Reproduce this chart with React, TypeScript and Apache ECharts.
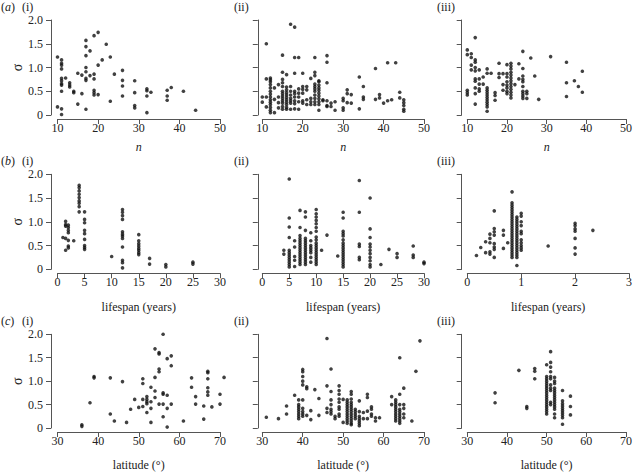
import React, { useEffect, useRef } from "react";
import * as echarts from "echarts";

type Col = [number, number[]];

// (a) sigma vs n
const aI: Col[] = [
  [10, [1.22, 0.17]],
  [11, [1.16, 1.09, 1.05, 0.97, 0.77, 0.72, 0.66, 0.63, 0.5, 0.13, 0.01]],
  [12, [0.78]],
  [13, [0.68, 0.63, 0.59]],
  [14, [0.5, 0.47]],
  [15, [0.88, 0.23]],
  [16, [0.84, 0.45]],
  [17, [1.57, 1.44, 1.25, 1.0, 0.91, 0.77, 0.73, 0.12]],
  [18, [1.35, 0.83]],
  [19, [1.67, 0.86, 0.76, 0.52, 0.47, 0.42]],
  [20, [1.74, 1.05, 0.43]],
  [21, [1.16]],
  [22, [1.49]],
  [23, [1.22, 0.29]],
  [24, [0.86]],
  [26, [0.94, 0.73, 0.61, 0.4]],
  [29, [0.72, 0.47, 0.2, 0.15]],
  [32, [0.55, 0.51, 0.4, 0.05]],
  [33, [0.48]],
  [37, [0.52, 0.4, 0.31]],
  [38, [0.58]],
  [41, [0.5]],
  [44, [0.1]],
];
const aII: Col[] = [
  [10, [0.38, 0.27]],
  [11, [1.5, 0.76, 0.38, 0.17]],
  [12, [0.78, 0.74, 0.7, 0.64, 0.57, 0.5, 0.44, 0.38, 0.32, 0.27, 0.22, 0.16, 0.1, 0.05]],
  [13, [0.57, 0.33, 0.05]],
  [14, [0.64, 0.38, 0.26, 0.15]],
  [15, [1.26, 0.9, 0.75, 0.68, 0.6, 0.5, 0.45, 0.4, 0.35, 0.3, 0.25, 0.18, 0.12]],
  [16, [0.85, 0.59, 0.53, 0.47, 0.42, 0.37, 0.32, 0.27, 0.22, 0.16, 0.12]],
  [17, [1.91, 0.6, 0.5, 0.42, 0.35, 0.3, 0.25, 0.12]],
  [18, [1.85, 1.21, 0.88, 0.5, 0.45, 0.38, 0.3, 0.24, 0.13]],
  [19, [1.21, 0.55, 0.46, 0.38, 0.28, 0.12]],
  [20, [0.88, 0.6, 0.54, 0.46, 0.3, 0.25]],
  [21, [0.6, 0.53, 0.32, 0.22]],
  [22, [0.77, 0.35, 0.28, 0.22]],
  [23, [1.21, 0.9, 0.83, 0.65, 0.6, 0.55, 0.5, 0.42, 0.35, 0.28, 0.22]],
  [24, [0.72, 0.7, 0.63, 0.57, 0.52, 0.46, 0.4, 0.34, 0.28, 0.22, 0.1]],
  [25, [0.32, 0.3]],
  [26, [1.25, 1.11, 0.68, 0.3, 0.2, 0.18]],
  [27, [0.25, 0.18]],
  [28, [0.28, 0.1]],
  [30, [0.35, 0.3, 0.15, 0.1]],
  [31, [0.53, 0.45, 0.26]],
  [32, [0.43, 0.25]],
  [34, [0.8, 0.13]],
  [35, [0.6, 0.38, 0.33]],
  [38, [0.98, 0.33]],
  [39, [0.43, 0.36]],
  [40, [0.25]],
  [41, [1.1, 0.3]],
  [42, [0.32]],
  [43, [1.1]],
  [44, [0.48, 0.36]],
  [45, [0.32, 0.26, 0.2, 0.12, 0.08]],
];
const aIII: Col[] = [
  [10, [1.37, 1.27, 0.52, 0.47, 0.42]],
  [11, [1.29, 1.21, 1.05, 0.95]],
  [12, [1.63, 1.16, 1.11, 1.0, 0.93, 0.76, 0.71, 0.57, 0.45, 0.23]],
  [13, [0.95, 0.76, 0.65, 0.55, 0.5]],
  [14, [0.8, 0.65]],
  [15, [0.97, 0.88, 0.57, 0.52, 0.47, 0.42, 0.37, 0.32, 0.27, 0.22, 0.17, 0.08]],
  [16, [0.88]],
  [17, [0.47, 0.41, 0.31]],
  [18, [1.09, 0.87, 0.79]],
  [19, [0.87, 0.64, 0.52]],
  [20, [1.06, 0.87, 0.8, 0.7, 0.63, 0.57, 0.5, 0.45]],
  [21, [1.09, 1.03, 0.97, 0.9, 0.84, 0.78, 0.72, 0.66, 0.6, 0.54, 0.48, 0.42, 0.36]],
  [22, [0.64]],
  [23, [1.08, 0.76]],
  [24, [1.34, 0.98, 0.82, 0.75, 0.7, 0.6, 0.5, 0.45, 0.4, 0.35]],
  [25, [0.5, 0.45, 0.35]],
  [26, [1.2]],
  [27, [0.82]],
  [28, [0.33]],
  [31, [1.23]],
  [35, [1.11, 0.68, 0.39]],
  [37, [0.72]],
  [38, [0.6]],
  [39, [0.92, 0.48]],
];

// (b) sigma vs lifespan
const bI: Col[] = [
  [1, [0.67]],
  [1.5, [1.01, 0.94, 0.91, 0.65, 0.4]],
  [2, [0.93, 0.88, 0.82, 0.77, 0.61, 0.49, 0.45]],
  [3, [0.6]],
  [4, [1.77, 1.72, 1.65, 1.58, 1.51, 1.44, 1.39, 1.32, 1.21]],
  [5, [1.21, 1.05, 0.98, 0.82, 0.75, 0.63, 0.5, 0.46, 0.42]],
  [10, [0.27]],
  [12, [1.26, 1.2, 1.13, 1.05, 0.79, 0.74, 0.7, 0.65, 0.47, 0.19, 0.14, 0.03]],
  [15, [0.73, 0.6, 0.54, 0.49, 0.44, 0.4, 0.35, 0.31]],
  [17, [0.23, 0.11]],
  [20, [0.1, 0.05]],
  [25, [0.15, 0.11]],
];
const bII: Col[] = [
  [4, [0.4, 0.32]],
  [5, [1.9, 1.08, 0.89, 0.67, 0.4, 0.35, 0.3, 0.25, 0.2, 0.15, 0.1, 0.05]],
  [6, [0.6, 0.47, 0.27, 0.19, 0.06]],
  [7, [1.24, 0.88, 0.71, 0.65, 0.6, 0.55, 0.5, 0.45, 0.4, 0.35, 0.3, 0.25, 0.2, 0.15, 0.1]],
  [8, [1.21, 1.1, 0.82, 0.65, 0.6, 0.55, 0.5, 0.45, 0.4, 0.35, 0.3, 0.25, 0.2, 0.15, 0.1]],
  [9, [0.77, 0.6, 0.5, 0.45, 0.4, 0.35, 0.25, 0.15]],
  [10, [1.26, 1.17, 1.1, 1.03, 0.96, 0.88, 0.8, 0.68, 0.62, 0.55, 0.5, 0.45, 0.4, 0.35, 0.3, 0.25, 0.2, 0.15, 0.1]],
  [11, [0.4]],
  [12, [0.72]],
  [14, [0.28]],
  [15, [1.2, 1.08, 0.8, 0.75, 0.7, 0.62, 0.55, 0.5, 0.45, 0.4, 0.35, 0.3, 0.25, 0.2, 0.15, 0.1, 0.05]],
  [18, [1.87, 1.2, 0.53, 0.48, 0.25, 0.2]],
  [20, [1.5, 0.85, 0.67, 0.53, 0.47, 0.4, 0.33, 0.25, 0.18, 0.1, 0.05]],
  [22, [0.1]],
  [23.5, [0.42]],
  [25, [0.33, 0.25]],
  [28, [0.49, 0.3, 0.25]],
  [30, [0.15, 0.12]],
];
const bIII: Col[] = [
  [0.17, [0.29]],
  [0.25, [0.46]],
  [0.34, [0.58, 0.35]],
  [0.42, [0.74, 0.65, 0.56, 0.37, 0.32]],
  [0.5, [1.23, 0.86, 0.79, 0.72, 0.54, 0.47, 0.42, 0.25]],
  [0.67, [0.82, 0.72, 0.44]],
  [0.75, [0.56]],
  [0.83, [1.63, 1.4, 1.35, 1.3, 1.25, 1.2, 1.15, 1.1, 1.05, 1.0, 0.95, 0.9, 0.85, 0.8, 0.75, 0.7, 0.65, 0.6, 0.55, 0.5, 0.45, 0.4, 0.35, 0.3, 0.25]],
  [0.92, [1.1, 1.05, 1.0, 0.95, 0.9, 0.85, 0.8, 0.75, 0.7, 0.65, 0.6, 0.55, 0.5, 0.45, 0.4, 0.35, 0.3, 0.25, 0.08]],
  [1, [1.18, 1.12, 1.0, 0.92, 0.8, 0.75, 0.62, 0.56, 0.5, 0.45, 0.4]],
  [1.5, [0.49]],
  [2, [0.97, 0.92, 0.85, 0.8, 0.65, 0.45, 0.32]],
  [2.33, [0.82]],
];

// (c) sigma vs latitude
const cI: Col[] = [
  [36, [0.07, 0.035]],
  [38, [0.54]],
  [39, [1.1, 1.07]],
  [43, [1.07, 0.3]],
  [44, [0.15]],
  [46, [0.99]],
  [47, [0.12]],
  [48, [0.4]],
  [49, [0.61]],
  [50, [0.44]],
  [51, [1.05, 0.95, 0.61, 0.46]],
  [52, [0.67, 0.61, 0.56, 0.52, 0.33]],
  [53, [0.87, 0.56, 0.42, 0.12]],
  [54, [1.69, 1.08, 0.79, 0.65]],
  [55, [1.61, 1.58, 1.26, 1.2, 0.51]],
  [56, [2.0, 0.75, 0.72, 0.51, 0.24]],
  [57, [1.48, 0.7, 0.42, 0.02]],
  [58, [1.54, 1.33, 0.51]],
  [61, [0.15]],
  [63, [1.07, 0.87]],
  [64, [0.67, 0.51]],
  [66, [0.47, 0.19]],
  [67, [1.21, 1.18, 1.05, 0.86, 0.77, 0.7]],
  [68, [0.45]],
  [70, [0.72, 0.51]],
  [71, [1.08]],
];
const cII: Col[] = [
  [31, [0.23]],
  [34, [0.2]],
  [36, [0.47, 0.3]],
  [38, [0.7]],
  [39, [0.6, 0.5, 0.45, 0.4, 0.35, 0.3, 0.25, 0.2]],
  [40, [1.25, 1.2, 1.1, 1.0, 0.92, 0.6, 0.42, 0.35, 0.3, 0.25]],
  [41, [0.88, 0.84, 0.27]],
  [42, [0.37, 0.18]],
  [43, [0.82]],
  [44, [0.63, 0.27]],
  [46, [1.91, 0.9, 0.42, 0.33]],
  [47, [1.26, 0.78, 0.6, 0.5, 0.4, 0.35, 0.3]],
  [48, [0.25, 0.2]],
  [49, [0.9, 0.8, 0.72, 0.62, 0.55, 0.45, 0.4, 0.3, 0.25]],
  [50, [0.61, 0.12]],
  [51, [0.6, 0.55, 0.5, 0.45, 0.4, 0.35, 0.3, 0.25, 0.2, 0.15, 0.1]],
  [52, [0.78, 0.72, 0.62, 0.55, 0.5, 0.45, 0.4, 0.35, 0.3, 0.25, 0.2, 0.15, 0.1, 0.07]],
  [53, [0.4, 0.35, 0.3, 0.25, 0.2]],
  [54, [0.58, 0.35, 0.25, 0.2, 0.15, 0.1, 0.05]],
  [55, [0.33, 0.2]],
  [56, [0.72, 0.65, 0.36, 0.2]],
  [57, [0.45, 0.4, 0.3, 0.25]],
  [58, [0.22, 0.15]],
  [59, [0.22]],
  [62, [0.67, 0.5]],
  [63, [0.6, 0.55, 0.5, 0.45, 0.4, 0.35, 0.3, 0.25, 0.2, 0.15]],
  [64, [1.5, 0.72, 0.5, 0.4, 0.35, 0.3, 0.25, 0.2, 0.15, 0.1]],
  [65, [0.85, 0.5, 0.42, 0.3, 0.22]],
  [67, [0.15]],
  [68, [1.21]],
  [69, [1.86]],
];
const cIII: Col[] = [
  [37, [0.75, 0.54]],
  [43, [1.23]],
  [45, [0.46, 0.42]],
  [47, [1.27, 1.21, 1.05]],
  [50, [1.35, 1.1, 1.05, 1.0, 0.95, 0.9, 0.85, 0.8, 0.75, 0.7, 0.65, 0.6, 0.55, 0.5, 0.45, 0.4, 0.35, 0.3]],
  [51, [1.63, 1.4, 1.3, 1.2, 1.1, 1.05, 0.92, 0.85, 0.8, 0.55, 0.5]],
  [52, [1.08, 1.0, 0.95, 0.85, 0.8, 0.75, 0.7, 0.65, 0.6, 0.55, 0.5, 0.45, 0.4, 0.3, 0.22]],
  [54, [0.8, 0.58, 0.52, 0.47, 0.42, 0.37, 0.32, 0.27, 0.22, 0.08]],
  [56, [0.68, 0.46, 0.28]],
];

// axis ranges: [min, max, interval] per row/column
const xRangesA = [[10, 50, 10], [10, 50, 10], [10, 50, 10]];
const xRangesB = [[0, 30, 5], [0, 30, 5], [0, 3, 1]];
const xRangesC = [[30, 70, 10], [30, 70, 10], [30, 70, 10]];
const yRange = [0, 2, 0.5];
const rowLetters = ["a", "b", "c"];
const panelNumerals = ["i", "ii", "iii"];
const xNames = ["n", "lifespan (years)", "latitude (°)"];
const yName = "σ";

const FONT = "'Liberation Serif', 'Times New Roman', serif";
const TEXT = "#222";
const AXIS = "#555";

function flat(cols: Col[]): number[][] {
  const out: number[][] = [];
  cols.forEach(([x, ys]) => ys.forEach((y) => out.push([x, y])));
  return out;
}

export default function App() {
  const ref = useRef<HTMLDivElement>(null);
  useEffect(() => {
    if (!ref.current) return;
    const chart = echarts.init(ref.current, undefined, { renderer: "svg" });
    const data = [
      [aI, aII, aIII],
      [bI, bII, bIII],
      [cI, cII, cIII],
    ];
    const xr = [xRangesA, xRangesB, xRangesC];
    const colLeft = [57.5, 262.3, 467.3];
    const colWidth = [162.5, 161.7, 161.7];
    const yOff = [6.5, 4.5, 5.6];
    const rowTop = [20, 174.3, 334.3];
    const rowHeight = 95;
    const nameGaps = [22, 28, 27];

    const grids: any[] = [];
    const xAxes: any[] = [];
    const yAxes: any[] = [];
    const series: any[] = [];
    const graphics: any[] = [];

    for (let r = 0; r < 3; r++) {
      for (let c = 0; c < 3; c++) {
        const idx = r * 3 + c;
        grids.push({ left: colLeft[c], top: rowTop[r], width: colWidth[c], height: rowHeight });
        const [mn, mx, iv] = xr[r][c];
        xAxes.push({
          type: "value",
          gridIndex: idx,
          min: mn,
          max: mx,
          interval: iv,
          offset: 4,
          splitLine: { show: false },
          axisLine: { show: true, onZero: false, lineStyle: { color: AXIS, width: 1 } },
          axisTick: { show: true, length: 5, lineStyle: { color: AXIS, width: 1 } },
          axisLabel: {
            show: true,
            margin: 3,
            fontFamily: FONT,
            fontSize: 12,
            color: TEXT,
            showMinLabel: true,
            showMaxLabel: true,
          },
          name: xNames[r],
          nameLocation: "middle",
          nameGap: nameGaps[r],
          nameTextStyle: {
            fontFamily: FONT,
            fontSize: 12,
            color: TEXT,
            fontStyle: r === 0 ? "italic" : "normal",
          },
        });
        yAxes.push({
          type: "value",
          gridIndex: idx,
          min: yRange[0],
          max: yRange[1],
          interval: yRange[2],
          offset: yOff[c],
          splitLine: { show: false },
          axisLine: { show: true, onZero: false, lineStyle: { color: AXIS, width: 1 } },
          axisTick: { show: true, length: 5, lineStyle: { color: AXIS, width: 1 } },
          axisLabel: {
            show: c === 0,
            margin: 8,
            fontFamily: FONT,
            fontSize: 12,
            color: TEXT,
            formatter: (v: number) => (v === 0 ? "0" : v.toFixed(1)),
          },
          name: c === 0 ? yName : "",
          nameLocation: "middle",
          nameGap: 22,
          nameRotate: 90,
          nameTextStyle: { fontFamily: FONT, fontSize: 14, color: TEXT },
        });
        series.push({
          type: "scatter",
          xAxisIndex: idx,
          yAxisIndex: idx,
          data: flat(data[r][c]),
          symbol: "circle",
          symbolSize: 3.6,
          clip: false,
          itemStyle: { color: "#111" },
        });
        const labelX = [22, 234, 437][c];
        graphics.push({
          type: "text",
          left: labelX,
          top: rowTop[r] - 19,
          style: {
            text: `(${panelNumerals[c]})`,
            font: `12px ${FONT}`,
            fill: TEXT,
          },
        });
      }
      graphics.push({
        type: "text",
        left: 1,
        top: rowTop[r] - 19,
        style: {
          text: `({i|${rowLetters[r]}})`,
          font: `12px ${FONT}`,
          fill: TEXT,
          rich: { i: { fontStyle: "italic", fontFamily: FONT, fontSize: 12, fill: TEXT } },
        },
      });
    }

    chart.setOption({
      animation: false,
      backgroundColor: "#fff",
      grid: grids,
      xAxis: xAxes,
      yAxis: yAxes,
      series,
      graphic: graphics,
    });
    return () => chart.dispose();
  }, []);
  return (
    <div
      ref={ref}
      style={{ position: "fixed", left: 0, top: 0, width: 635, height: 472, background: "#fff" }}
    />
  );
}
